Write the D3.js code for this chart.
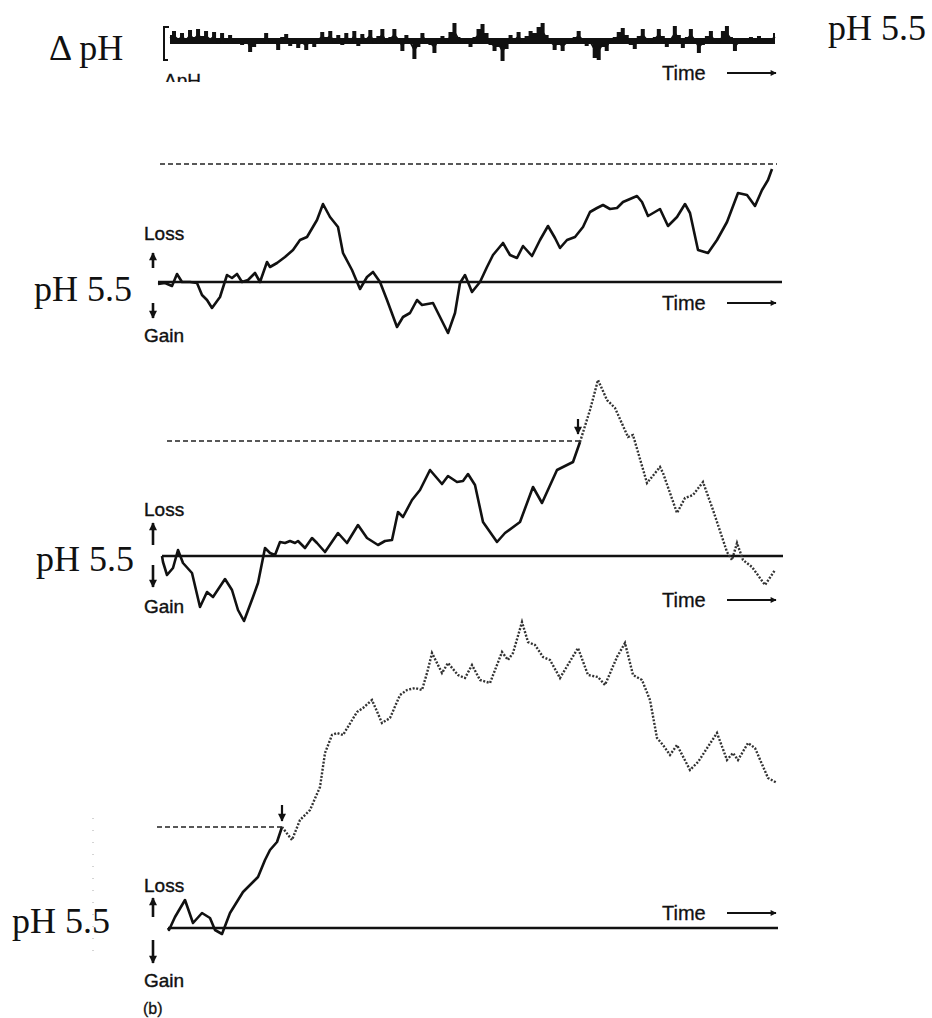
<!DOCTYPE html>
<html><head><meta charset="utf-8">
<script src="https://cdn.jsdelivr.net/npm/d3@7"></script>
<style>
html,body{margin:0;padding:0;background:#fff;}
svg{display:block;}
.serif{font-family:"Liberation Serif","DejaVu Serif",serif;fill:#111;}
.sans{font-family:"Liberation Sans",Arial,sans-serif;fill:#111;}
</style></head>
<body>
<svg id="c" width="932" height="1018"></svg>
<script>
// ---------------- DATA ----------------
// Top strip: ΔpH fluctuation (up positive), evenly sampled over time
const noiseValues = [6,10,3,8,2,11,4,12,5,10,3,9,-3,8,-2,6,-1,1,-4,2,-11,-6,1,-3,8,-2,1,-9,4,7,-5,2,-7,-3,-9,1,-6,2,9,4,10,-2,6,-4,8,-1,10,-5,7,3,11,-3,5,12,-2,4,12,3,-10,6,-3,-18,-6,8,2,-4,-12,3,5,-2,9,18,4,-3,2,-6,4,12,17,8,-4,-10,-6,-20,-8,6,2,9,-2,5,10,8,14,18,6,-2,-9,-4,-10,-3,1,4,10,2,-5,-3,-17,-19,-6,-10,2,4,9,13,6,-4,-8,5,12,3,-3,4,12,5,-6,3,15,6,-7,4,12,2,-12,-4,5,10,1,-3,10,15,4,-10,-2,3,1,4,2,5,1,3,2,8];

// Panel 1: [time, pH change (loss +)]
const panel1Trace = [[0,-2],[7,-1],[14,-4],[19,8],[24,0],[32,0],[39,-1],[44,-13],[49,-18],[54,-26],[62,-15],[69,7],[74,4],[79,8],[84,0],[90,2],[97,9],[102,0],[109,20],[112,15],[119,19],[127,25],[135,32],[142,42],[149,45],[159,62],[165,78],[172,65],[180,55],[185,29],[194,12],[202,-7],[209,5],[215,10],[222,0],[229,-18],[239,-45],[245,-35],[252,-31],[259,-18],[264,-23],[275,-21],[282,-35],[290,-51],[297,-31],[302,-1],[307,7],[314,-10],[322,0],[329,15],[335,27],[345,39],[352,27],[359,24],[365,36],[374,26],[382,42],[390,56],[397,44],[402,34],[409,42],[417,45],[425,55],[432,70],[439,74],[445,77],[452,73],[459,74],[465,80],[479,86],[484,80],[490,66],[502,73],[510,56],[519,65],[527,78],[532,69],[540,32],[550,29],[559,42],[569,60],[580,89],[589,87],[597,76],[604,92],[610,102],[614,113]];
const panel1Threshold = 118;

// Panel 2
const panel2Solid = [[4,0],[5,-6],[9,-19],[15,-12],[20,6],[25,-7],[34,-17],[42,-51],[49,-36],[55,-41],[67,-23],[74,-34],[80,-54],[86,-65],[95,-41],[100,-27],[107,8],[112,3],[117,1],[122,14],[127,13],[132,15],[137,13],[140,15],[147,8],[154,18],[159,13],[167,4],[180,23],[189,13],[200,31],[209,18],[220,11],[227,15],[234,16],[240,44],[245,39],[254,56],[262,66],[272,86],[284,72],[290,80],[299,74],[305,75],[310,82],[317,71],[325,34],[339,14],[347,23],[362,34],[375,69],[384,53],[399,86],[415,94],[422,114]];
const panel2Dotted = [[422,114],[432,146],[440,176],[449,156],[457,148],[470,119],[475,121],[489,73],[502,89],[505,83],[519,43],[527,58],[535,61],[545,74],[555,46],[569,4],[574,-4],[579,13],[585,-4],[594,-11],[607,-29],[617,-14]];
const panel2Threshold = 115;

// Panel 3
const panel3Solid = [[10,0],[11,-2],[17,11],[27,28],[35,5],[44,15],[52,10],[57,-2],[64,-6],[72,15],[85,36],[97,48],[100,51],[107,68],[112,78],[119,86],[124,101]];
const panel3Dotted = [[124,101],[134,88],[142,108],[152,118],[162,141],[167,175],[174,193],[179,195],[185,193],[199,216],[205,220],[214,228],[224,205],[232,210],[242,233],[249,238],[257,240],[264,238],[269,255],[274,275],[284,255],[290,265],[300,253],[307,250],[314,263],[322,248],[332,245],[344,276],[350,268],[355,275],[364,306],[370,286],[377,283],[385,271],[392,268],[402,250],[420,280],[430,253],[440,251],[447,243],[459,271],[467,285],[475,253],[484,248],[492,228],[499,190],[505,183],[512,173],[519,183],[532,158],[540,166],[559,195],[569,168],[575,175],[580,168],[590,185],[597,180],[610,150],[619,145]];
const panel3Threshold = 101;

const phLabel = "pH 5.5";
const timeLabel = "Time";
const lossLabel = "Loss";
const gainLabel = "Gain";

// ---------------- LAYOUT ----------------
const svg = d3.select("#c");
const x = d3.scaleLinear().domain([0, 620]).range([158, 778]);

function yScale(base){ return d3.scaleLinear().domain([0, 100]).range([base, base - 100]); }
const line = (ys) => d3.line().x(d => x(d[0])).y(d => ys(d[1]));

const defs = svg.append("defs");
defs.append("marker").attr("id","ah").attr("viewBox","0 0 10 10").attr("refX",9).attr("refY",5)
  .attr("markerWidth",9).attr("markerHeight",6).attr("markerUnits","userSpaceOnUse").attr("orient","auto")
  .append("path").attr("d","M0,0L10,5L0,10z").attr("fill","#111");
defs.append("marker").attr("id","ah2").attr("viewBox","0 0 10 10").attr("refX",9).attr("refY",5)
  .attr("markerWidth",10).attr("markerHeight",8).attr("markerUnits","userSpaceOnUse").attr("orient","auto")
  .append("path").attr("d","M0,0L10,5L0,10z").attr("fill","#111");
defs.append("clipPath").attr("id","dclip").append("rect").attr("x",150).attr("y",60).attr("width",100).attr("height",22);

function timeArrow(y){
  svg.append("text").attr("class","sans").attr("x",662).attr("y",y+7).attr("font-size",20)
    .attr("stroke","#111").attr("stroke-width",0.3).text(timeLabel);
  svg.append("line").attr("x1",727).attr("x2",776).attr("y1",y).attr("y2",y)
    .attr("stroke","#111").attr("stroke-width",1.8).attr("marker-end","url(#ah)");
}
function lossGain(base, lossDy, upTop, upBot, dnTop, dnBot, gainDy){
  svg.append("text").attr("class","sans").attr("x",144).attr("y",base+lossDy+7).attr("font-size",19)
    .attr("stroke","#111").attr("stroke-width",0.4).text(lossLabel);
  svg.append("text").attr("class","sans").attr("x",144).attr("y",base+gainDy+7).attr("font-size",19)
    .attr("stroke","#111").attr("stroke-width",0.4).text(gainLabel);
  svg.append("line").attr("x1",153).attr("x2",153).attr("y1",base+upBot).attr("y2",base+upTop)
    .attr("stroke","#111").attr("stroke-width",2.6).attr("marker-end","url(#ah2)");
  svg.append("line").attr("x1",153).attr("x2",153).attr("y1",base+dnTop).attr("y2",base+dnBot)
    .attr("stroke","#111").attr("stroke-width",2.6).attr("marker-end","url(#ah2)");
}
function baseLine(base, x0, x1){
  svg.append("line").attr("x1",x0).attr("x2",x1).attr("y1",base).attr("y2",base)
    .attr("stroke","#111").attr("stroke-width",2.6);
}
function dashed(ys, v, t0, t1){
  svg.append("line").attr("x1",x(t0)).attr("x2",x(t1)).attr("y1",ys(v)).attr("y2",ys(v))
    .attr("stroke","#222").attr("stroke-width",1.7).attr("stroke-dasharray","5,3");
}
function solidTrace(ys, data){
  svg.append("path").datum(data).attr("d", line(ys)).attr("fill","none")
    .attr("stroke","#111").attr("stroke-width",2.6).attr("stroke-linejoin","round");
}
function dottedTrace(ys, data){
  svg.append("path").datum(data).attr("d", line(ys)).attr("fill","none")
    .attr("stroke","#333").attr("stroke-width",2.4).attr("stroke-dasharray","2,1.6");
}
function downArrow(xp, y0, y1){
  svg.append("line").attr("x1",xp).attr("x2",xp).attr("y1",y0).attr("y2",y1)
    .attr("stroke","#111").attr("stroke-width",2.2).attr("marker-end","url(#ah2)");
}

// ---- Top strip ----
const noiseY = 41;
svg.append("text").attr("class","serif").attr("x",49).attr("y",60).attr("font-size",36).text("\u0394 pH");
svg.append("text").attr("class","serif").attr("x",828).attr("y",40).attr("font-size",36).text(phLabel);
svg.append("path").attr("d","M169,27H164V60H168").attr("fill","none").attr("stroke","#111").attr("stroke-width",2);
const nx = d3.scaleLinear().domain([0, noiseValues.length - 1]).range([170, 775]);
const ny = d3.scaleLinear().domain([0, 10]).range([noiseY, noiseY - 10]);
const step = nx(1) - nx(0);
svg.append("line").attr("x1",170).attr("x2",775).attr("y1",noiseY).attr("y2",noiseY).attr("stroke","#111").attr("stroke-width",6);
svg.append("path").datum(noiseValues)
  .attr("d", d3.area().x((d,i)=>nx(i)).y0(noiseY).y1(d=>ny(d)).curve(d3.curveStep))
  .attr("fill","#111");
svg.append("path").datum(noiseValues)
  .attr("d", d3.line().x((d,i)=>nx(i)).y(d=>ny(d*0.5)))
  .attr("fill","none").attr("stroke","#111").attr("stroke-width",1.8);
svg.append("text").attr("class","sans").attr("x",164).attr("y",87).attr("font-size",19)
  .attr("stroke","#111").attr("stroke-width",0.3)
  .attr("clip-path","url(#dclip)").text("\u0394pH");
timeArrow(73);

// ---- Panel 1 ----
const base1 = 282, y1 = yScale(base1);
dashed(y1, panel1Threshold, 2, 619);
baseLine(base1, 158, 782);
solidTrace(y1, panel1Trace);
svg.append("text").attr("class","serif").attr("x",34).attr("y",base1+19).attr("font-size",36).text(phLabel);
lossGain(base1, -49, -29, -14, 21, 36, 53);
timeArrow(303);

// ---- Panel 2 ----
const base2 = 556, y2 = yScale(base2);
dashed(y2, panel2Threshold, 9, 422);
baseLine(base2, 162, 783);
solidTrace(y2, panel2Solid);
dottedTrace(y2, panel2Dotted);
downArrow(x(420), 419, 434);
svg.append("text").attr("class","serif").attr("x",36).attr("y",base2+15).attr("font-size",36).text(phLabel);
lossGain(base2, -47, -33, -11, 9, 31, 50);
timeArrow(600);

// ---- Panel 3 ----
const base3 = 928, y3 = yScale(base3);
svg.append("line").attr("x1",93).attr("x2",93).attr("y1",818).attr("y2",962)
  .attr("stroke","#aaa").attr("stroke-width",1).attr("stroke-dasharray","1,11");
dashed(y3, panel3Threshold, -1, 124);
baseLine(base3, 168, 778);
solidTrace(y3, panel3Solid);
dottedTrace(y3, panel3Dotted);
downArrow(x(124), 805, 821);
svg.append("text").attr("class","serif").attr("x",12).attr("y",base3+5).attr("font-size",36).text(phLabel);
lossGain(base3, -43, -30, -11, 12, 35, 52);
svg.append("text").attr("class","sans").attr("x",143).attr("y",1014).attr("font-size",16)
  .attr("stroke","#111").attr("stroke-width",0.3).text("(b)");
timeArrow(913);
</script>
</body></html>
